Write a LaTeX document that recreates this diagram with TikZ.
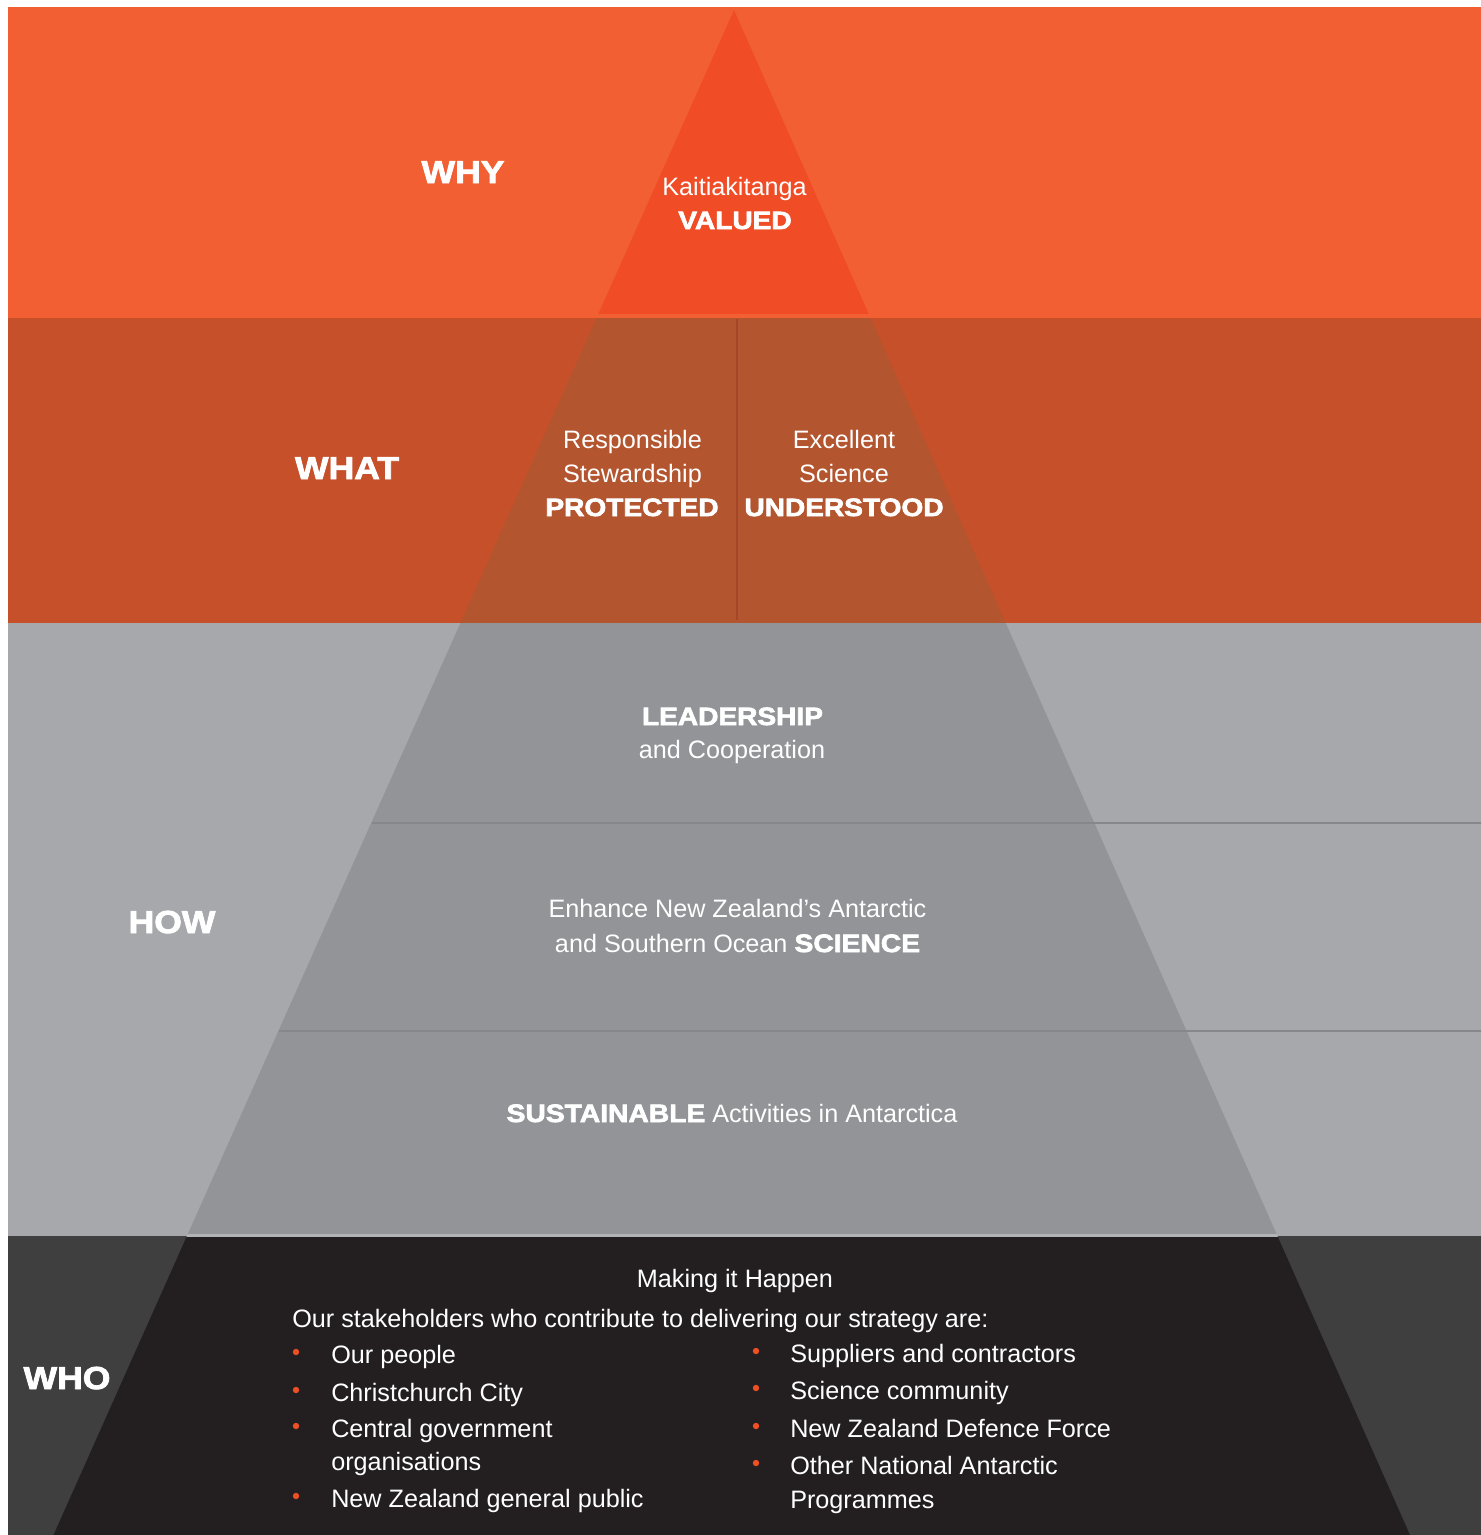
\documentclass[tikz,border=0pt]{standalone}
\usepackage{fontspec}
\setmainfont{Liberation Sans}
\newfontfamily\heavy[FakeStretch=1.12,FakeBold=2.6]{Liberation Sans Bold}
\definecolor{whybg}{RGB}{241,95,51}
\definecolor{whyin}{RGB}{240,76,38}
\definecolor{whatbg}{RGB}{198,80,41}
\definecolor{whatin}{RGB}{179,85,47}
\definecolor{whatline}{RGB}{166,70,40}
\definecolor{howbg}{RGB}{167,168,172}
\definecolor{howin}{RGB}{147,148,152}
\definecolor{howline}{RGB}{134,135,139}
\definecolor{howstrip}{RGB}{178,179,182}
\definecolor{whobg}{RGB}{63,63,63}
\definecolor{whoin}{RGB}{35,31,32}
\definecolor{bulletc}{RGB}{240,78,35}
\tikzset{
  txt/.style={text=white, inner sep=0pt, anchor=base, font=\fontsize{18.9}{23}\selectfont},
  txtl/.style={txt, anchor=base west},
  bold/.style={txt, font=\fontsize{18.8}{23}\selectfont\heavy},
  head/.style={txt, font=\fontsize{23.8}{28}\selectfont\heavy},
  sepline/.style={draw=howline, line width=1.5pt},
  midline/.style={draw=whatline, line width=1.5pt},
  dot/.style={fill=bulletc}
}
\begin{document}
\begin{tikzpicture}[x=0.75pt,y=-0.75pt]
\useasboundingbox (0,0) rectangle (1481,1535);
% bands
\fill[whybg] (8,7) rectangle (1481,318);
\fill[whatbg] (8,318) rectangle (1481,623);
\fill[howbg] (8,623) rectangle (1481,1236);
\fill[whobg] (8,1236) rectangle (1481,1535);
% pyramid
\coordinate (apex) at (734,10);
\coordinate (bl) at (53.5,1535);
\coordinate (br) at (1410,1535);
\begin{scope}
\clip (apex) -- (bl) -- (br) -- cycle;
\fill[whyin] (0,0) rectangle (1481,314);
\fill[whatin] (0,318) rectangle (1481,623);
\fill[howin] (0,623) rectangle (1481,1234);
\fill[howstrip] (0,1234) rectangle (1481,1237);
\fill[whoin] (0,1237) rectangle (1481,1535);
\end{scope}
% separators
\coordinate (s1a) at (371.7,822.5);
\coordinate (s1b) at (1481,822.5);
\coordinate (s2a) at (278.9,1030.5);
\coordinate (s2b) at (1481,1030.5);
\draw[sepline] (s1a) -- (s1b);
\draw[sepline] (s2a) -- (s2b);
\coordinate (m1) at (737,319);
\coordinate (m2) at (737,620);
\draw[midline] (m1) -- (m2);
% WHY
\node[head] (why) at (463,183) {WHY};
\node[txt] (kait) at (734.5,195) {Kaitiakitanga};
\node[bold] (valued) at (735,229) {VALUED};
% WHAT
\node[head] (what) at (347,479) {WHAT};
\node[txt] (resp) at (632.5,448) {Responsible};
\node[txt] (stew) at (632.5,482) {Stewardship};
\node[bold] (prot) at (632,516) {PROTECTED};
\node[txt] (exc) at (844,448) {Excellent};
\node[txt] (sci) at (844,482) {Science};
\node[bold] (und) at (844,516) {UNDERSTOOD};
% HOW
\node[head] (how) at (172,933) {HOW};
\node[bold] (lead) at (732.5,725) {LEADERSHIP};
\node[txt] (coop) at (732,758) {and Cooperation};
\node[txt] (enh) at (737.5,917) {Enhance New Zealand’s Antarctic};
\node[txt] (sou) at (737.5,952) {and Southern Ocean {\heavy SCIENCE}};
\node[txt] (sust) at (732,1122) {{\heavy SUSTAINABLE} Activities in Antarctica};
% WHO
\node[head] (who) at (67,1389) {WHO};
\node[txt] (make) at (735,1287) {Making it Happen};
\node[txtl] (stake) at (292,1327) {Our stakeholders who contribute to delivering our strategy are:};
\node[txtl] (l1) at (331,1363) {Our people};
\node[txtl] (l2) at (331,1401) {Christchurch City};
\node[txtl] (l3) at (331,1437) {Central government};
\node[txtl] (l3b) at (331,1470) {organisations};
\node[txtl] (l4) at (331,1507) {New Zealand general public};
\node[txtl] (r1) at (790,1362) {Suppliers and contractors};
\node[txtl] (r2) at (790,1399) {Science community};
\node[txtl] (r3) at (790,1437) {New Zealand Defence Force};
\node[txtl] (r4) at (790,1474) {Other National Antarctic};
\node[txtl] (r4b) at (790,1508) {Programmes};
\foreach \y in {1352,1390,1426,1496} \fill[dot] (296,\y) circle (3.2);
\foreach \y in {1351,1388,1426,1463} \fill[dot] (756,\y) circle (3.2);
\end{tikzpicture}
\end{document}
